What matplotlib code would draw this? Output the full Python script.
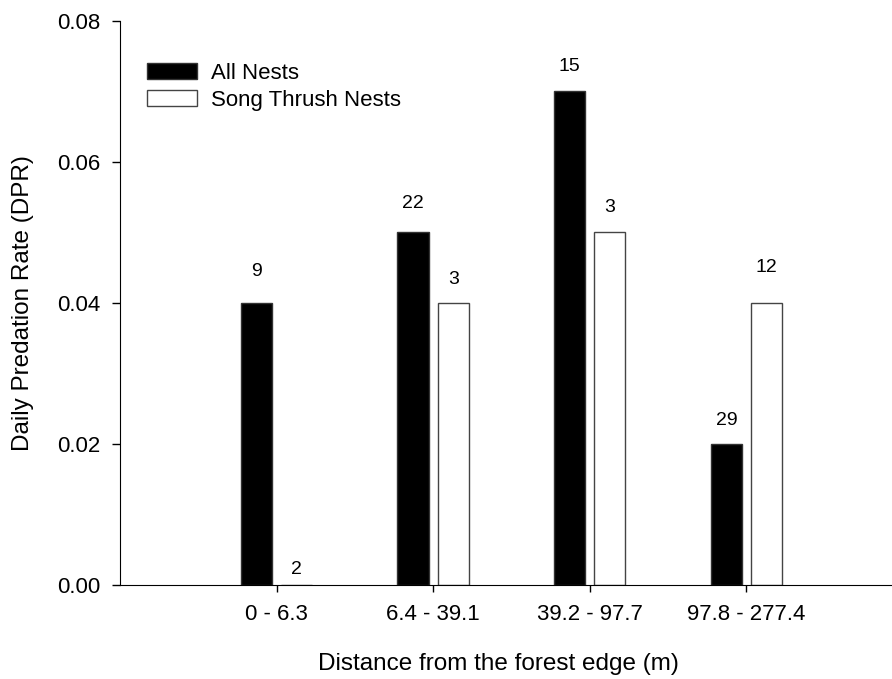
import matplotlib
matplotlib.use("Agg")
import matplotlib.pyplot as plt
import numpy as np

plt.rcParams['font.family'] = ['Liberation Sans', 'DejaVu Sans']

categories = ["0 - 6.3", "6.4 - 39.1", "39.2 - 97.7", "97.8 - 277.4"]
all_nests = [0.04, 0.05, 0.07, 0.02]
thrush_nests = [0.0, 0.04, 0.05, 0.04]
all_n = ["9", "22", "15", "29"]
thrush_n = ["2", "3", "3", "12"]

# vertical offsets (pixels) of the sample-size labels above the bars
all_dy = [31, 28.5, 24.5, 23.5]
thrush_dy = [16, 23, 25, 35]

fig = plt.figure(figsize=(8.92, 6.79), dpi=100)
ax = fig.add_axes([120/892, 94/679, 772/892, 564/679])

x = np.arange(1, len(categories) + 1)
off = 0.128
w = 0.2
ax.bar(x - off, all_nests, w, color='black', edgecolor='#333333', linewidth=1, label='All Nests')
ax.bar(x + off, thrush_nests, w, color='white', edgecolor='#444444', linewidth=1, label='Song Thrush Nests')

for xi, v, t, dy in zip(x - off, all_nests, all_n, all_dy):
    ax.annotate(t, (xi, v), xytext=(0, dy), textcoords='offset pixels',
                ha='center', va='center', fontsize=14)
for xi, v, t, dy in zip(x + off, thrush_nests, thrush_n, thrush_dy):
    ax.annotate(t, (xi, v), xytext=(0, dy), textcoords='offset pixels',
                ha='center', va='center', fontsize=14)

ax.set_xlim(0, 4.93)
ax.set_ylim(0, 0.08)
ax.set_xticks(x)
ax.set_xticklabels(categories, fontsize=16)
ax.set_yticks([0, 0.02, 0.04, 0.06, 0.08])
ax.set_yticklabels(["0.00", "0.02", "0.04", "0.06", "0.08"], fontsize=16)
ax.tick_params(axis='y', direction='out', length=6, width=1, pad=8)
ax.tick_params(axis='x', direction='out', length=5, width=1, pad=9)
ax.spines['top'].set_visible(False)
ax.spines['right'].set_visible(False)

ax.set_ylabel("Daily Predation Rate (DPR)", fontsize=17.5)
ax.yaxis.set_label_coords(-0.112, 0.5)
ax.set_xlabel("Distance from the forest edge (m)", fontsize=17.5)
ax.xaxis.set_label_coords(378/772, -0.12)

ax.legend(loc='upper left', bbox_to_anchor=(0.024, 0.9415), frameon=False,
          fontsize=16, handlelength=2.25, handleheight=0.72,
          handletextpad=0.6, labelspacing=0.28, borderaxespad=0)

fig.savefig("out.png", dpi=100)
